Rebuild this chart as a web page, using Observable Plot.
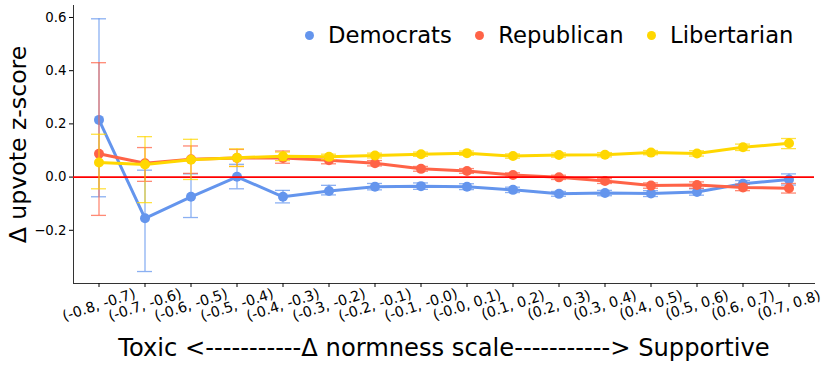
<!DOCTYPE html>
<html>
<head>
<meta charset="utf-8">
<script src="https://cdn.jsdelivr.net/npm/d3@7"></script>
<script src="https://cdn.jsdelivr.net/npm/@observablehq/plot@0.6"></script>
<style>
  body { margin: 0; background: #fff; font-family: "DejaVu Sans", sans-serif; }
  #wrap { position: relative; width: 831px; height: 367px; }
  #legend { position: absolute; top: 22px; left: 304.5px; display: flex; align-items: center;
            font-size: 22.7px; line-height: 26px; color: #000; white-space: nowrap; }
  #legend .item { display: flex; align-items: center; margin-right: 23px; }
  #legend .dot { width: 9px; height: 9px; border-radius: 50%; margin-right: 14.5px; }
</style>
</head>
<body>
<div id="wrap"><div id="legend"></div></div>
<script>
const categories = ["(-0.8, -0.7)", "(-0.7, -0.6)", "(-0.6, -0.5)", "(-0.5, -0.4)", "(-0.4, -0.3)",
  "(-0.3, -0.2)", "(-0.2, -0.1)", "(-0.1, -0.0)", "(-0.0, 0.1)", "(0.1, 0.2)", "(0.2, 0.3)",
  "(0.3, 0.4)", "(0.4, 0.5)", "(0.5, 0.6)", "(0.6, 0.7)", "(0.7, 0.8)"];
const seriesNames = ["Democrats", "Republican", "Libertarian"];
const seriesColors = ["#6495ED", "#FF6347", "#FFD700"];

const demMean = [0.215, -0.155, -0.074, 0.001, -0.074, -0.052, -0.036, -0.034, -0.036, -0.048, -0.063, -0.060, -0.062, -0.056, -0.025, -0.009];
const demLo   = [-0.074, -0.355, -0.152, -0.044, -0.097, -0.067, -0.048, -0.046, -0.047, -0.058, -0.072, -0.070, -0.073, -0.068, -0.038, -0.030];
const demHi   = [0.595, 0.026, 0.012, 0.048, -0.050, -0.031, -0.024, -0.022, -0.025, -0.038, -0.054, -0.050, -0.051, -0.044, -0.013, 0.012];

const repMean = [0.088, 0.052, 0.067, 0.072, 0.072, 0.063, 0.052, 0.031, 0.023, 0.008, -0.001, -0.015, -0.032, -0.030, -0.039, -0.042];
const repLo   = [-0.144, -0.016, 0.014, 0.040, 0.052, 0.050, 0.042, 0.022, 0.014, 0.000, -0.009, -0.024, -0.042, -0.042, -0.051, -0.060];
const repHi   = [0.430, 0.111, 0.117, 0.104, 0.098, 0.076, 0.062, 0.040, 0.032, 0.016, 0.007, -0.006, -0.022, -0.018, -0.027, -0.024];

const libMean = [0.055, 0.047, 0.065, 0.073, 0.078, 0.076, 0.081, 0.086, 0.090, 0.079, 0.083, 0.084, 0.092, 0.089, 0.112, 0.127];
const libLo   = [-0.044, -0.096, -0.009, 0.040, 0.062, 0.066, 0.072, 0.078, 0.082, 0.071, 0.075, 0.076, 0.084, 0.079, 0.100, 0.107];
const libHi   = [0.161, 0.152, 0.142, 0.106, 0.094, 0.086, 0.090, 0.094, 0.098, 0.087, 0.091, 0.092, 0.100, 0.099, 0.124, 0.145];

const yTicks = [-0.2, 0.0, 0.2, 0.4, 0.6];
const yDomain = [-0.4, 0.645];
const xTitle = "Toxic <-----------Δ normness scale-----------> Supportive";
const yTitle = "Δ upvote z-score";

const sources = {
  Democrats: [demMean, demLo, demHi],
  Republican: [repMean, repLo, repHi],
  Libertarian: [libMean, libLo, libHi]
};
const table = [];
for (const s of seriesNames) {
  const [m, lo, hi] = sources[s];
  categories.forEach((c, i) => table.push({series: s, cat: c, mean: m[i], lo: lo[i], hi: hi[i]}));
}

const marks = [
  Plot.frame({anchor: "left", stroke: "#333"}),
  Plot.frame({anchor: "bottom", stroke: "#333"}),
  Plot.axisY({ticks: yTicks, tickFormat: d3.format(".1f"), tickSize: 4, tickPadding: 3, label: null, fontSize: 13.3}),
  Plot.axisX({tickSize: 4, tickFormat: () => "", label: null}),
  Plot.text(categories, {x: d => d, frameAnchor: "bottom", dy: 21.5, rotate: -18, fontSize: 14.3, textAnchor: "middle", lineAnchor: "middle", fill: "#000"}),
  Plot.text([xTitle], {frameAnchor: "bottom", dy: 64.5, fontSize: 24.2, textAnchor: "middle", lineAnchor: "middle", fill: "#000"}),
  Plot.text([yTitle], {frameAnchor: "left", dx: -55.5, rotate: -90, fontSize: 23.6, textAnchor: "middle", lineAnchor: "middle", fill: "#000"})
];
for (const s of seriesNames) {
  const d = table.filter(r => r.series === s);
  const err = {stroke: "series", strokeWidth: 1.3, strokeOpacity: 0.75};
  marks.push(Plot.ruleX(d, {x: "cat", y1: "lo", y2: "hi", ...err}));
  marks.push(Plot.tickY(d, {x: "cat", y: "lo", ...err}));
  marks.push(Plot.tickY(d, {x: "cat", y: "hi", ...err}));
  marks.push(Plot.line(d, {x: "cat", y: "mean", stroke: "series", strokeWidth: 3}));
  marks.push(Plot.dot(d, {x: "cat", y: "mean", fill: "series", r: 5}));
  if (s === "Republican") marks.push(Plot.ruleY([0], {stroke: "#ff0000", strokeWidth: 1.6}));
}

const chart = Plot.plot({
  width: 831,
  height: 367,
  marginLeft: 73,
  marginRight: 17,
  marginTop: 5,
  marginBottom: 84,
  style: {fontFamily: "DejaVu Sans", fontSize: "13px", color: "#000", background: "#fff"},
  x: {type: "band", domain: categories, paddingInner: 0.676, paddingOuter: 0.338, axis: null},
  y: {domain: yDomain, axis: null},
  color: {domain: seriesNames, range: seriesColors},
  marks
});
document.getElementById("wrap").prepend(chart);

const legend = document.getElementById("legend");
seriesNames.forEach((s, i) => {
  const item = document.createElement("div");
  item.className = "item";
  const dot = document.createElement("span");
  dot.className = "dot";
  dot.style.background = seriesColors[i];
  const label = document.createElement("span");
  label.textContent = s;
  item.append(dot, label);
  legend.append(item);
});
</script>
</body>
</html>
